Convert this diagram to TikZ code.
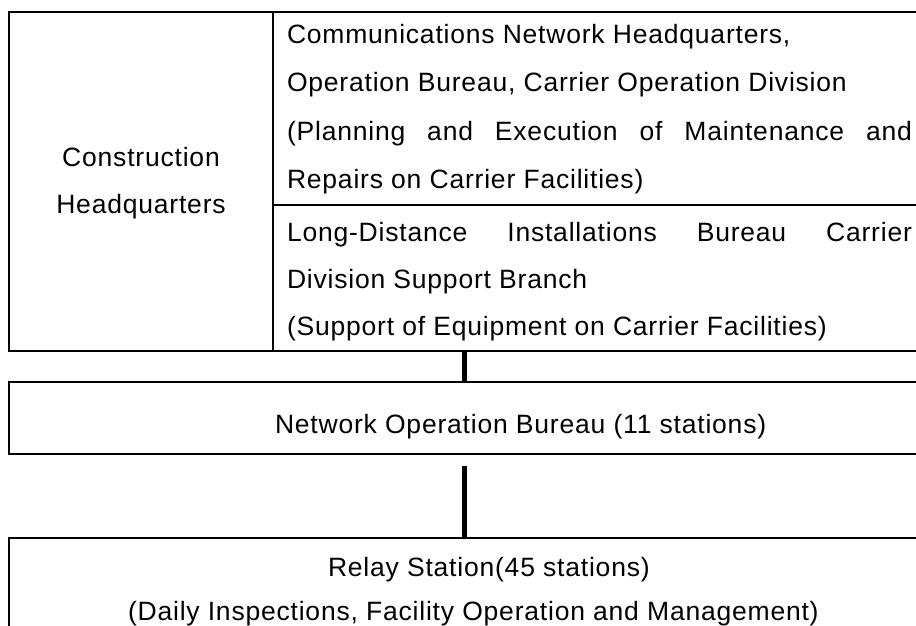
\documentclass[tikz,border=0pt]{standalone}
\usepackage{fontspec}
\setmainfont{Liberation Sans}[LetterSpace=3]
\usetikzlibrary{calc}
\begin{document}
\begin{tikzpicture}[x=1pt,y=-1pt,
  box/.style={draw, line width=2.3pt, rectangle, inner sep=0pt, outer sep=0pt, anchor=north west},
  txt/.style={inner sep=0pt, outer sep=0pt, anchor=base west, font=\fontsize{26.5}{33}\selectfont},
  ctxt/.style={txt, anchor=base},
  link/.style={line width=5pt}]
\useasboundingbox (0,0) rectangle (916,625);
\clip (0,0) rectangle (916,625);
% boxes
\node[box, minimum width=264pt, minimum height=339pt] (hq) at (9,12) {};
\node[box, minimum width=667pt, minimum height=193pt] (c1) at (273,12) {};
\node[box, minimum width=667pt, minimum height=146pt] (c2) at (273,205) {};
\node[box, minimum width=932pt, minimum height=72pt] (net) at (8.7,382) {};
\node[box, minimum width=932pt, minimum height=120pt] (relay) at (9,538) {};
% texts
\node[ctxt] (hqa) at (141,166.5) {Construction};
\node[ctxt] (hqb) at (141,213) {Headquarters};
\node[txt] (t1) at (287,43) {Communications Network Headquarters,};
\node[txt] (t2) at (287,91.5) {Operation Bureau, Carrier Operation Division};
\node[txt] (t3) at (287,140) {\makebox[625pt][l]{(Planning\hfill and\hfill Execution\hfill of\hfill Maintenance\hfill and}};
\node[txt] (t4) at (287,188) {Repairs on Carrier Facilities)};
\node[txt] (t5) at (287,241) {\makebox[625pt][l]{Long-Distance\hfill Installations\hfill Bureau\hfill Carrier}};
\node[txt] (t6) at (287,288) {Division Support Branch};
\node[txt] (t7) at (287,335) {(Support of Equipment on Carrier Facilities)};
\node[txt] (nt) at (275,433) {Network Operation Bureau (11 stations)};
\node[txt] (r1) at (328,576.5) {Relay Station(45 stations)};
\node[txt] (r2) at (128,620) {(Daily Inspections, Facility Operation and Management)};
% connectors
\coordinate (cx) at (464.5,0);
\draw[link] (c2.south -| cx) -- (net.north -| cx);
\coordinate (g) at ($(net.south -| cx)+(0,12)$);
\draw[link] (g) -- (relay.north -| cx);
\end{tikzpicture}
\end{document}
